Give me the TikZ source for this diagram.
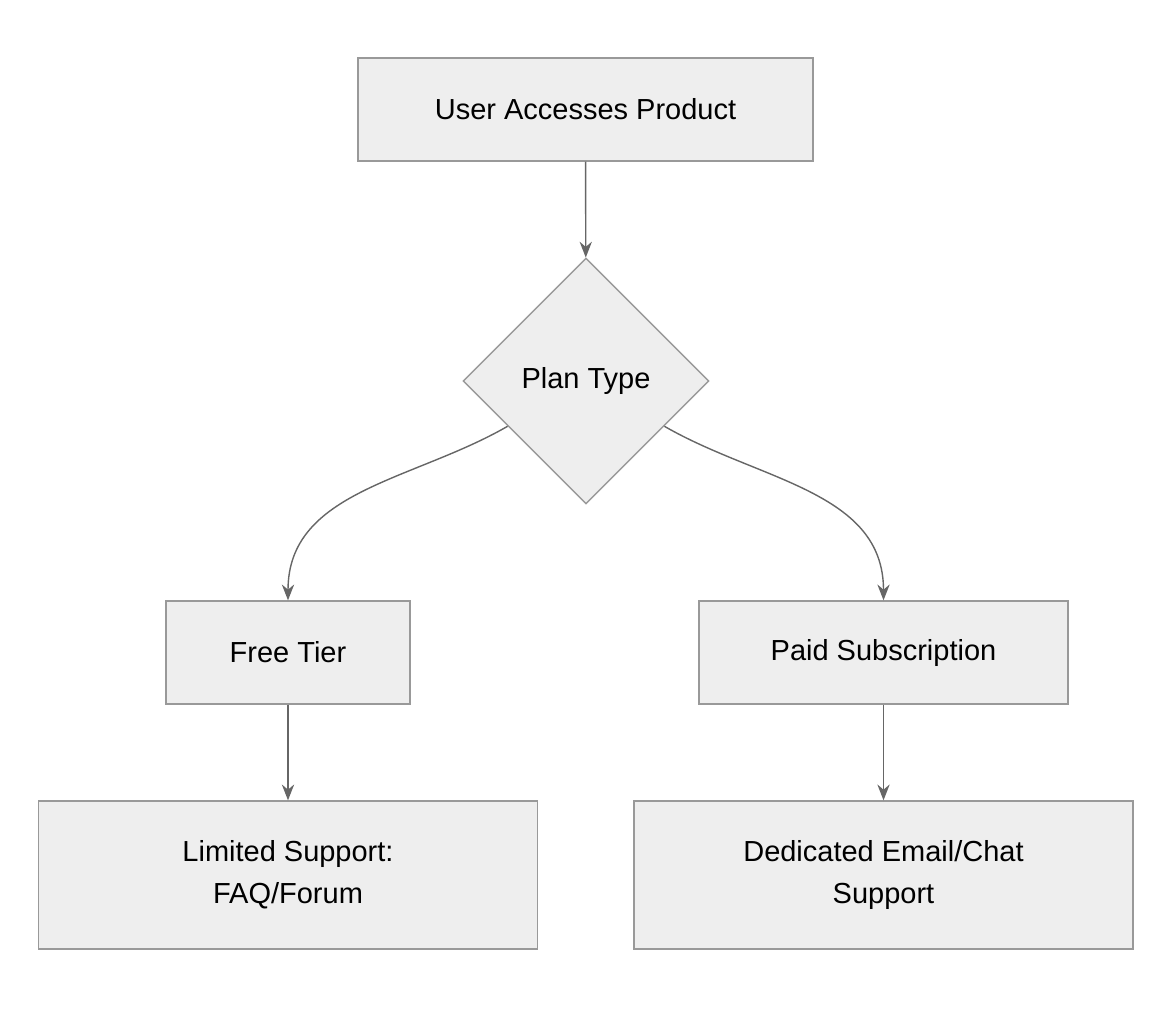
\documentclass[tikz,border=0pt]{standalone}
\usepackage{fontspec}
\setmainfont{Liberation Sans}
\usetikzlibrary{arrows.meta,shapes.geometric,positioning}
\definecolor{boxfill}{HTML}{EEEEEE}
\definecolor{boxline}{HTML}{999999}
\definecolor{arrowline}{HTML}{666666}
\begin{document}
\begin{tikzpicture}[x=0.02cm,y=-0.02cm,
        >={Stealth[length=9pt,width=7pt]},
        every node/.style={font=\fontsize{16.5}{24}\selectfont},
        box/.style={rectangle,draw=boxline,fill=boxfill,line width=0.8pt,align=center,inner sep=0pt},
        choice/.style={diamond,draw=boxline,fill=boxfill,line width=0.8pt,minimum width=4.92cm,minimum height=4.92cm,inner sep=0pt},
        link/.style={->,draw=arrowline,line width=0.8pt}]

  \useasboundingbox (0,0) rectangle (1172,1008);

  \node[box,minimum width=9.1cm,minimum height=2.06cm] (access) at (585.5,109.5) {User Accesses Product};
  \node[choice] (plan) at (586,381) {Plan Type};
  \node[box,minimum width=4.88cm,minimum height=2.06cm] (free) at (288,652.5) {Free Tier};
  \node[box,minimum width=7.38cm,minimum height=2.06cm] (paid) at (883.5,652.5) {Paid Subscription};
  \node[box,minimum width=9.98cm,minimum height=2.96cm] (limited) at (288,875) {Limited Support:\\FAQ/Forum};
  \node[box,minimum width=9.98cm,minimum height=2.96cm] (dedicated) at (883.5,875) {Dedicated Email/Chat\\Support};

  \draw[link] (access) -- (plan);
  \draw[link] (plan.210) to[out=210,in=90] (free.north);
  \draw[link] (plan.330) to[out=330,in=90] (paid.north);
  \draw[link] (free) -- (limited);
  \draw[link] (paid) -- (dedicated);

\end{tikzpicture}
\end{document}
